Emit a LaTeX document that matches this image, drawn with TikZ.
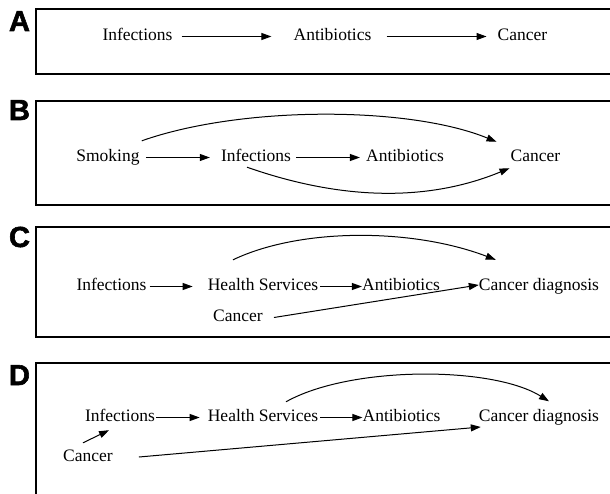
\documentclass[tikz,border=0pt]{standalone}
\usepackage{fontspec}
\setmainfont{Liberation Serif}
\newfontfamily\lblfont[BoldFeatures={FakeBold=2}]{Liberation Sans}
\usetikzlibrary{arrows.meta,calc}
\begin{document}
\begin{tikzpicture}[x=1pt,y=-1pt,
  txt/.style={inner sep=0pt, text height=12pt, text depth=3.5pt, font=\fontsize{17.5}{20}\selectfont},
  lbl/.style={inner sep=0pt, anchor=base, font=\lblfont\bfseries\fontsize{29}{32}\selectfont},
  panel/.style={line width=1.8pt},
  arr/.style={line width=1pt, -{Triangle[length=10pt,width=7pt]}}]
\useasboundingbox (0,0) rectangle (610,494);
\clip (0,0) rectangle (610,494);
\fill[white] (0,0) rectangle (610,494);

% panel frames
\draw[panel] (36,9) rectangle (620,74);
\draw[panel] (36,101) rectangle (620,205);
\draw[panel] (36,227) rectangle (620,337);
\draw[panel] (36,500) -- (36,363) -- (620,363);

% panel letters
\node[lbl] (la) at (19.5,31) {A};
\node[lbl] (lb) at (19.5,120) {B};
\node[lbl] (lc) at (19.5,247) {C};
\node[lbl] (ld) at (19.5,385) {D};

% ---- Panel A
\node[txt] (aInf) at (137.5,36.5) {Infections};
\node[txt] (aAnt) at (332.5,36.5) {Antibiotics};
\node[txt] (aCan) at (522.5,36.5) {Cancer};
\draw[arr, shorten <=9pt, shorten >=22pt] (aInf.east) -- (aAnt.west);
\draw[arr, shorten <=15pt, shorten >=11pt] (aAnt.east) -- (aCan.west);

% ---- Panel B
\node[txt] (bSmk) at (108,157.5) {Smoking};
\node[txt] (bInf) at (256,157.5) {Infections};
\node[txt] (bAnt) at (405,157.5) {Antibiotics};
\node[txt] (bCan) at (535.5,157.5) {Cancer};
\draw[arr, shorten <=6pt, shorten >=11pt] (bSmk.east) -- (bInf.west);
\draw[arr, shorten <=5pt, shorten >=6pt] (bInf.east) -- (bAnt.west);
\draw[arr] ($(bSmk.north east)+(2,-8.75)$) .. controls +(99,-35) and +(-88,-36) .. ($(bCan.north west)+(-14,-7.75)$);
\draw[arr] ($(bInf.south)+(-9,1.75)$) .. controls +(97,34) and +(-80,33) .. ($(bCan.south west)+(-1,2.75)$);

% ---- Panel C
\node[txt] (cInf) at (111.5,286.5) {Infections};
\node[txt] (cHS) at (263,286.5) {Health Services};
\node[txt] (cAnt) at (401,286.5) {Antibiotics};
\node[txt] (cCD) at (539,286.5) {Cancer diagnosis};
\node[txt] (cCan) at (238,317.5) {Cancer};
\draw[arr, shorten <=3pt, shorten >=15pt] (cInf.east) -- (cHS.west);
\draw[arr, shorten <=2pt] (cHS.east) -- (cAnt.west);
\draw[arr] ($(cHS.north)+(-30,-18.75)$) .. controls +(67,-32) and +(-84,-32) .. ($(cCD.north west)+(17,-18.75)$);
\draw[arr] ($(cCan.east)+(11,0)$) -- ($(cCD.south west)+(0,-9.5)$);

% ---- Panel D
\node[txt] (dInf) at (120,417.5) {Infections};
\node[txt] (dHS) at (263,417.5) {Health Services};
\node[txt] (dAnt) at (401.5,417.5) {Antibiotics};
\node[txt] (dCD) at (539,417.5) {Cancer diagnosis};
\node[txt] (dCan) at (88,457.5) {Cancer};
\draw[arr, shorten <=1pt, shorten >=8pt] (dInf.east) -- (dHS.west);
\draw[arr, shorten <=2pt] (dHS.east) -- (dAnt.west);
\draw[arr] ($(dCan.north)+(-5,-6.75)$) -- ($(dInf.south)+(-11,4.75)$);
\draw[arr] ($(dCan.east)+(26,-0.5)$) -- ($(dCD.west)+(2,9.5)$);
\draw[arr] ($(dHS.north)+(23,-7.75)$) .. controls +(64,-36) and +(-57,-35.5) .. ($(dCD.north)+(10,-8.25)$);
\end{tikzpicture}
\end{document}
